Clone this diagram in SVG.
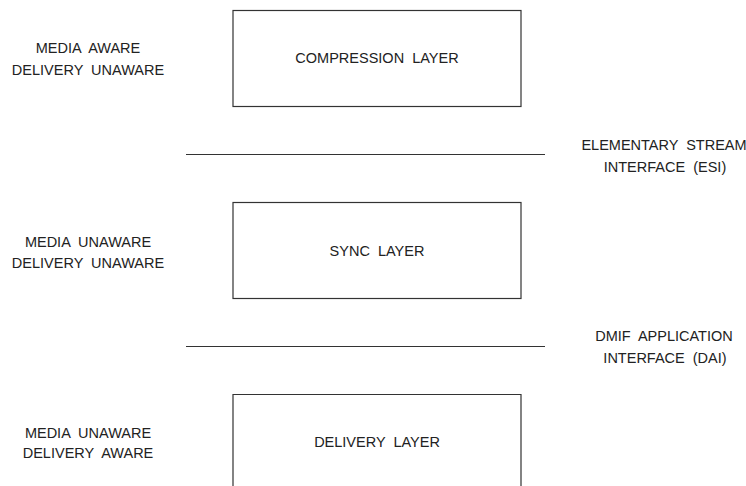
<svg xmlns="http://www.w3.org/2000/svg" width="746" height="486" viewBox="0 0 746 486">
<style>
text{font-family:"Liberation Sans",Arial,sans-serif;font-size:14.5px;fill:#222;text-anchor:middle;white-space:pre}
.box{fill:none;stroke:#333;stroke-width:1.2}
.iface{stroke:#333;stroke-width:1.1}
</style>
<rect width="746" height="486" fill="#fff"/>
<g id="compression">
<rect class="box" x="233" y="10.5" width="288" height="96"/>
<text x="377" y="63">COMPRESSION  LAYER</text>
<text x="88" y="53">MEDIA  AWARE</text>
<text x="88" y="75">DELIVERY  UNAWARE</text>
</g>
<g id="sync">
<rect class="box" x="233" y="202.5" width="288" height="96"/>
<text x="377" y="256">SYNC  LAYER</text>
<text x="88" y="247">MEDIA  UNAWARE</text>
<text x="88" y="268">DELIVERY  UNAWARE</text>
</g>
<g id="delivery">
<path class="box" d="M233,487 V394.5 H521 V487"/>
<text x="377" y="447">DELIVERY  LAYER</text>
<text x="88" y="438">MEDIA  UNAWARE</text>
<text x="88" y="458">DELIVERY  AWARE</text>
</g>
<g id="connectors">
<line class="iface" x1="186" y1="154.5" x2="545" y2="154.5"/>
<line class="iface" x1="186" y1="346.5" x2="545" y2="346.5"/>
</g>
<g id="esi">
<text x="664" y="150">ELEMENTARY  STREAM</text>
<text x="665" y="172">INTERFACE  (ESI)</text>
</g>
<g id="dai">
<text x="664" y="341">DMIF  APPLICATION</text>
<text x="665" y="363">INTERFACE  (DAI)</text>
</g>
</svg>
